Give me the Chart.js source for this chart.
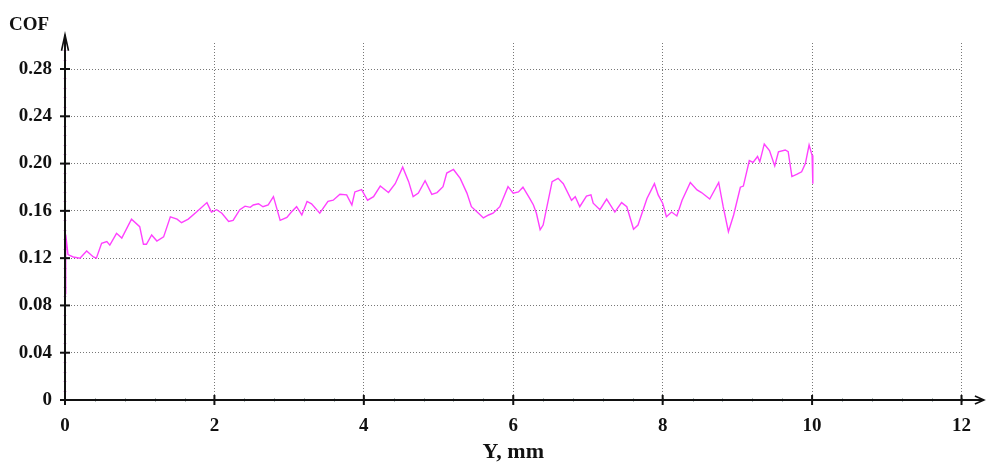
<!DOCTYPE html>
<html>
<head>
<meta charset="utf-8">
<script src="https://cdn.jsdelivr.net/npm/chart.js@4/dist/chart.umd.min.js"></script>
<style>
  html, body { margin: 0; padding: 0; background: #fff; }
  #wrap { width: 986px; height: 463px; position: relative; }
</style>
</head>
<body>
<div id="wrap"><canvas id="cof"></canvas></div>
<script>
// Y, mm (sliding distance) and coefficient of friction
const distMm = [0, 0.01, 0.04, 0.11, 0.20, 0.29, 0.38, 0.42, 0.49, 0.56, 0.60, 0.69, 0.76, 0.89, 1.00, 1.05, 1.09,
  1.16, 1.23, 1.32, 1.41, 1.50, 1.56, 1.65, 1.76, 1.90, 1.96, 2.03, 2.10, 2.19, 2.25, 2.34, 2.41, 2.48, 2.52,
  2.59, 2.65, 2.72, 2.79, 2.88, 2.97, 3.03, 3.10, 3.17, 3.24, 3.30, 3.41, 3.52, 3.59, 3.68, 3.77, 3.84, 3.88,
  3.97, 4.05, 4.13, 4.22, 4.33, 4.42, 4.52, 4.60, 4.66, 4.73, 4.82, 4.91, 4.98, 5.06, 5.11, 5.20, 5.29, 5.38,
  5.44, 5.56, 5.60, 5.67, 5.73, 5.82, 5.93, 6.00, 6.07, 6.13, 6.22, 6.27, 6.31, 6.36, 6.40, 6.52, 6.60, 6.67,
  6.78, 6.83, 6.89, 6.98, 7.04, 7.07, 7.16, 7.25, 7.36, 7.45, 7.52, 7.61, 7.67, 7.79, 7.89, 7.94, 8.00, 8.05,
  8.12, 8.19, 8.26, 8.37, 8.46, 8.52, 8.63, 8.75, 8.81, 8.88, 8.95, 9.04, 9.08, 9.16, 9.21, 9.27, 9.30, 9.36,
  9.43, 9.50, 9.55, 9.64, 9.68, 9.73, 9.80, 9.86, 9.91, 9.96, 10.00, 10.01];
const cof = [0.090, 0.140, 0.123, 0.121, 0.120, 0.126, 0.121, 0.120, 0.1325, 0.134, 0.131, 0.141, 0.137, 0.153, 0.1466, 0.1317, 0.1317,
  0.1396, 0.1345, 0.138, 0.155, 0.153, 0.150, 0.153, 0.159, 0.167, 0.159, 0.161, 0.158, 0.151, 0.152, 0.161, 0.164, 0.163, 0.165,
  0.166, 0.1635, 0.165, 0.172, 0.152, 0.1545, 0.159, 0.1635, 0.1565, 0.168, 0.166, 0.158, 0.168, 0.169, 0.174, 0.1735, 0.165, 0.176,
  0.178, 0.169, 0.172, 0.181, 0.1755, 0.183, 0.197, 0.1847, 0.172, 0.175, 0.1855, 0.174, 0.1755, 0.1805, 0.192, 0.195, 0.1875, 0.175,
  0.1635, 0.1565, 0.154, 0.1565, 0.158, 0.1635, 0.1805, 0.175, 0.176, 0.180, 0.1705, 0.165, 0.158, 0.144, 0.148, 0.1847, 0.1875, 0.183,
  0.169, 0.172, 0.1635, 0.1725, 0.1735, 0.1665, 0.161, 0.170, 0.159, 0.167, 0.1635, 0.1445, 0.148, 0.1705, 0.183, 0.1735, 0.1665, 0.155,
  0.159, 0.1557, 0.169, 0.184, 0.1777, 0.1755, 0.170, 0.184, 0.1635, 0.1424, 0.1565, 0.180, 0.181, 0.2025, 0.201, 0.206, 0.2015, 0.2166,
  0.211, 0.198, 0.210, 0.2115, 0.210, 0.189, 0.191, 0.193, 0.200, 0.2157, 0.207, 0.183];

const xTicks = [0, 2, 4, 6, 8, 10, 12];
const yTicks = [0, 0.04, 0.08, 0.12, 0.16, 0.20, 0.24, 0.28];
const xLabel = 'Y, mm';
const yLabel = 'COF';

const serif = '"Liberation Serif", "DejaVu Serif", serif';

// axes with arrows, crossing major ticks, tiny minor ticks, "COF" caption
const axesPlugin = {
  id: 'axes',
  afterDraw(chart) {
    const { ctx, scales: { x, y } } = chart;
    const x0 = x.getPixelForValue(0), y0 = y.getPixelForValue(0);
    const xEnd = x.getPixelForValue(12.3), yEnd = y.getPixelForValue(0.309);
    ctx.save();

    // minor ticks
    ctx.lineWidth = 1;
    ctx.strokeStyle = 'rgba(200,80,200,0.6)';
    for (let v = 0.008; v < 0.3; v += 0.008) {
      const py = Math.round(y.getPixelForValue(v)) + 0.5;
      ctx.beginPath(); ctx.moveTo(x0 - 1.5, py); ctx.lineTo(x0 + 1.5, py); ctx.stroke();
    }
    ctx.strokeStyle = 'rgba(120,140,140,0.6)';
    for (let v = 0.4; v < 12.2; v += 0.4) {
      const px = Math.round(x.getPixelForValue(v)) + 0.5;
      ctx.beginPath(); ctx.moveTo(px, y0 - 2); ctx.lineTo(px, y0 + 2); ctx.stroke();
    }

    ctx.strokeStyle = '#111';
    ctx.lineWidth = 2;
    ctx.beginPath();
    ctx.moveTo(x0, y0); ctx.lineTo(xEnd, y0);
    ctx.moveTo(x0, y0 + 2); ctx.lineTo(x0, yEnd);
    ctx.stroke();

    // major ticks
    xTicks.forEach(v => {
      const px = x.getPixelForValue(v);
      ctx.beginPath(); ctx.moveTo(px, y0 - 5); ctx.lineTo(px, y0 + 5); ctx.stroke();
    });
    yTicks.forEach(v => {
      const py = y.getPixelForValue(v);
      ctx.beginPath(); ctx.moveTo(x0 - 5, py); ctx.lineTo(x0 + 5, py); ctx.stroke();
    });

    // arrows
    ctx.lineWidth = 1.6;
    ctx.beginPath();
    ctx.moveTo(xEnd - 9, y0 - 4); ctx.lineTo(xEnd, y0); ctx.lineTo(xEnd - 9, y0 + 4);
    ctx.stroke();
    ctx.beginPath();
    ctx.moveTo(x0 - 3.5, yEnd + 16); ctx.lineTo(x0, yEnd); ctx.lineTo(x0 + 3.5, yEnd + 16);
    ctx.stroke();

    ctx.fillStyle = '#111';
    ctx.font = 'bold 19px ' + serif;
    ctx.textAlign = 'left';
    ctx.textBaseline = 'alphabetic';
    ctx.fillText(yLabel, 9, 30);
    ctx.restore();
  }
};

new Chart(document.getElementById('cof'), {
  type: 'scatter',
  data: {
    datasets: [{
      data: distMm.map((d, i) => ({ x: d, y: cof[i] })),
      showLine: true,
      borderColor: '#ff40ff',
      borderWidth: 1.4,
      pointRadius: 0,
      tension: 0,
    }]
  },
  options: {
    responsive: true, maintainAspectRatio: false,
    animation: false,
    layout: { padding: { top: 43, right: 24, left: 0, bottom: 0 } },
    plugins: { legend: { display: false }, tooltip: { enabled: false } },
    scales: {
      x: {
        type: 'linear', min: 0, max: 12,
        afterBuildTicks: s => { s.ticks = xTicks.map(v => ({ value: v })); },
        afterFit: s => { s.height = 63; },
        grid: {
          color: c => (c.tick.value === 0 ? 'rgba(0,0,0,0)' : '#777'),
          lineWidth: 1, drawTicks: false,
        },
        border: { display: false, dash: [1, 2] },
        ticks: {
          padding: 15, color: '#111',
          font: { family: serif, size: 19, weight: 'bold' },
          callback: v => String(v),
          maxRotation: 0,
        },
        title: {
          display: true, text: xLabel, color: '#111',
          font: { family: serif, size: 22, weight: 'bold', lineHeight: 1 },
          padding: { top: 0, bottom: 0 },
        },
      },
      y: {
        type: 'linear', min: 0, max: 0.302,
        afterBuildTicks: s => { s.ticks = yTicks.map(v => ({ value: v })); },
        afterFit: s => { s.width = 65; },
        grid: {
          color: c => (c.tick.value === 0 ? 'rgba(0,0,0,0)' : '#777'),
          lineWidth: 1, drawTicks: false,
        },
        border: { display: false, dash: [1, 2] },
        ticks: {
          padding: 13, color: '#111',
          font: { family: serif, size: 19, weight: 'bold' },
          callback: v => (v === 0 ? '0' : v.toFixed(2)),
        },
      },
    },
  },
  plugins: [axesPlugin],
});
</script>
</body>
</html>
